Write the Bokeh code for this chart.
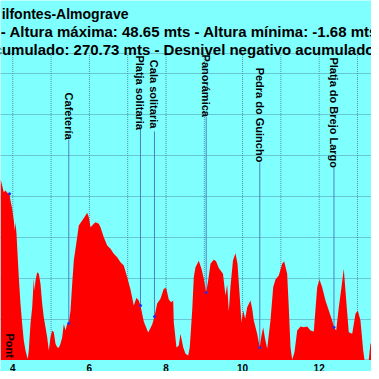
from bokeh.plotting import figure
from bokeh.models import Range1d
from bokeh.core.properties import value
from bokeh.embed import file_html
from bokeh.resources import INLINE
import math

# ---- profile data (distance km, altitude m) ----
dist_km = [3.679, 3.765, 3.809, 3.869, 3.914, 3.940, 3.984, 4.026, 4.052, 4.070,
           4.097, 4.115, 4.157, 4.201, 4.245, 4.287, 4.332, 4.376, 4.392, 4.418,
           4.462, 4.507, 4.548, 4.567, 4.593, 4.637, 4.679, 4.723, 4.768, 4.809,
           4.854, 4.898, 4.940, 4.984, 5.029, 5.071, 5.115, 5.159, 5.201, 5.245,
           5.290, 5.332, 5.376, 5.420, 5.462, 5.507, 5.551, 5.593, 5.681, 5.723,
           5.812, 5.898, 5.943, 5.984, 6.029, 6.073, 6.115, 6.159, 6.245, 6.290,
           6.376, 6.465, 6.551, 6.637, 6.726, 6.812, 6.898, 6.987, 7.073, 7.159,
           7.229, 7.290, 7.334, 7.420, 7.535, 7.640, 7.700, 7.770, 7.856, 7.943,
           8.005, 8.073, 8.136, 8.188, 8.204, 8.274, 8.334, 8.379, 8.449, 8.509,
           8.580, 8.621, 8.684, 8.726, 8.770, 8.856, 8.927, 8.987, 9.050, 9.102,
           9.162, 9.246, 9.305, 9.378, 9.488, 9.553, 9.597, 9.640, 9.684, 9.749,
           9.815, 9.867, 9.927, 9.971, 10.016, 10.068, 10.120, 10.206, 10.251, 10.292,
           10.381, 10.449, 10.486, 10.538, 10.580, 10.642, 10.728, 10.799, 10.859, 10.945,
           11.034, 11.086, 11.164, 11.206, 11.251, 11.295, 11.355, 11.426, 11.512, 11.598,
           11.687, 11.773, 11.859, 11.948, 12.008, 12.078, 12.164, 12.251, 12.339, 12.386,
           12.444, 12.512, 12.582, 12.642, 12.713, 12.773, 12.862, 12.948, 13.008, 13.078,
           13.149, 13.183, 13.295, 13.339, 13.410, 13.470, 13.574]
elev_m = [44.31, 41.04, 41.45, 40.79, 40.65, 39.01, 36.98, 34.12, 31.67, 33.70,
          30.86, 27.59, 20.25, 13.74, 8.85, 4.77, 2.32, 0.68, 0.29, 2.32,
          8.85, 12.91, 19.86, 17.00, 19.44, 21.47, 21.08, 18.64, 13.74, 10.47,
          8.02, 5.58, 2.32, 5.58, 7.21, 6.80, 3.96, 3.13, 2.98, 3.96,
          5.58, 8.85, 7.21, 8.85, 9.00, 12.11, 18.64, 24.33, 30.03, 32.89,
          34.12, 35.34, 36.00, 34.92, 32.48, 32.89, 33.31, 33.70, 33.31, 32.48,
          30.03, 28.00, 27.19, 25.97, 25.14, 23.92, 23.11, 20.25, 17.24, 13.33,
          15.21, 14.55, 13.33, 9.42, 6.73, 8.68, 10.64, 13.82, 14.97, 17.41,
          17.61, 14.80, 14.14, 14.55, 9.17, 3.06, 3.55, 6.41, 3.13, 1.52,
          1.10, 3.13, 12.11, 20.25, 22.70, 24.26, 22.30, 19.86, 16.51, 19.44,
          23.53, 24.50, 24.21, 22.50, 21.08, 15.77, 18.46, 11.86, 17.97, 24.33,
          26.12, 23.53, 15.36, 9.17, 12.11, 10.08, 12.91, 14.55, 12.52, 9.66,
          6.41, 3.06, 5.58, 8.02, 5.58, 2.74, 9.66, 17.80, 19.69, 20.67,
          23.53, 24.16, 21.08, 12.91, 3.13, 0.05, 1.91, 7.21, 8.19, 8.02,
          8.19, 7.21, 6.97, 17.80, 19.69, 17.80, 14.55, 12.11, 9.66, 8.02,
          7.21, 12.91, 17.80, 22.30, 13.74, 6.80, 6.41, 11.30, 12.11, 9.66,
          2.32, 0.05, 0.05, 3.96, 4.77, 6.41, 9.66]

# ---- waypoints ----
wp_names = ["Pont", "Cafetería", "Platja solitaria", "Cala solitaria",
            "Panorámica", "Pedra do Guincho", "Platja do Brejo Largo"]
wp_km = [3.914, 5.462, 7.334, 7.700, 9.050, 10.449, 12.386]
wp_elev = [40.65, 9.00, 13.33, 10.64, 16.51, 3.06, 8.02]

# label placement (chart units, layout only)
wp_label_top = [6.5, 65.4, 74.5, 73.4, 74.7, 71.5, 74.0]
wp_line_top = [None, 53.9, 56.5, 55.9, 59.4, 48.3, 47.1]

x_ticks = [4, 6, 8, 10, 12]
x_grid = [4, 5, 6, 7, 8, 9, 10, 11, 12, 13]
y_grid = [10, 20, 30, 40, 50, 60, 70]
Y_TOP = 74.88          # top edge of the plotting area

title_rows = ["ilfontes-Almograve",
              "- Altura máxima: 48.65 mts - Altura mínima: -1.68 mts",
              "cumulado: 270.73 mts - Desnivel negativo acumulado"]

BG = "#80FFFF"
GRID = "#4f8fab"
FONT = "Liberation Sans"

X0, X1 = 3.679, 13.366
Y0, Y1 = -2.81, 87.92

p = figure(width=371, height=371, output_backend="svg", toolbar_location=None,
           x_range=Range1d(X0, X1), y_range=Range1d(Y0, Y1),
           x_axis_location=None, y_axis_location=None, min_border=0)
p.title.visible = False
p.background_fill_color = BG
p.border_fill_color = BG
p.outline_line_color = None
p.grid.visible = False

# grid: horizontal lines across, vertical lines within the chart area
p.hspan(y=y_grid + [Y_TOP], line_color=GRID, line_dash="1 1", line_width=1)
p.segment(x0=x_grid, y0=[0] * len(x_grid), x1=x_grid, y1=[Y_TOP] * len(x_grid),
          line_color=GRID, line_dash="1 1", line_width=1)

# waypoint lines (under fill)
seg_x, seg_y0, seg_y1 = [], [], []
for k, e, t in zip(wp_km, wp_elev, wp_line_top):
    if t is not None:
        seg_x.append(k); seg_y0.append(e); seg_y1.append(t)
p.segment(x0=seg_x, y0=seg_y0, x1=seg_x, y1=seg_y1, line_color="#4f7fbf", line_width=1)

# profile
p.varea(x=dist_km, y1=[0] * len(dist_km), y2=elev_m, fill_color="#FF0000")

# waypoint dots
p.scatter(x=wp_km, y=wp_elev, size=3, color="#2a2af0", line_color=None)

# waypoint labels
p.text(x=wp_km, y=wp_label_top, text=wp_names, angle=-math.pi / 2,
       text_align="left", text_baseline="alphabetic",
       text_font=value(FONT), text_font_style="bold", text_font_size="11px",
       text_color="black")

# x tick labels
p.text(x=x_ticks, y=[-2.05] * len(x_ticks), text=[str(t) for t in x_ticks],
       text_align="center", text_baseline="alphabetic",
       text_font=value(FONT), text_font_style="bold", text_font_size="10px",
       text_color="black")

# title rows
p.text(x=[7.02], y=[84.67], text=[title_rows[0]], text_align="right",
       text_baseline="alphabetic", text_font=value(FONT), text_font_style="bold",
       text_font_size="14px", text_color="black")
p.text(x=[13.548, 13.444], y=[80.34, 75.86], text=title_rows[1:], text_align="right",
       text_baseline="alphabetic", text_font=value(FONT), text_font_style="bold",
       text_font_size="15px", text_color="black")

open("out.html", "w").write(file_html(p, INLINE))
